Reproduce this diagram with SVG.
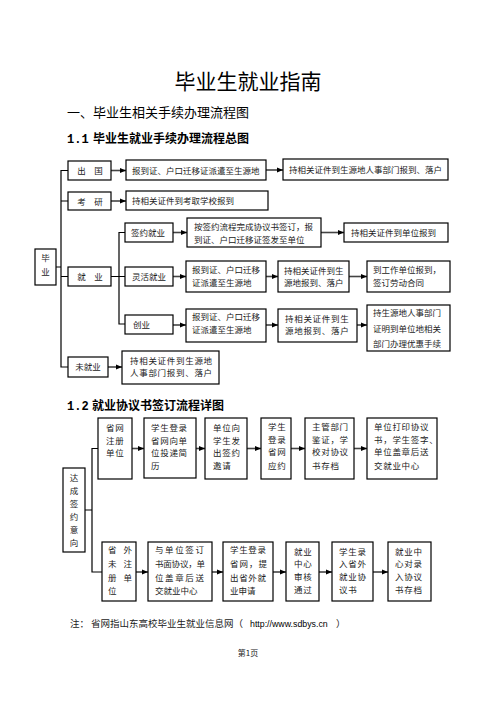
<svg xmlns="http://www.w3.org/2000/svg" width="496" height="702" viewBox="0 0 496 702">
<defs>
<marker id="ah" viewBox="0 0 10 10" refX="10" refY="5" markerUnits="userSpaceOnUse" markerWidth="6" markerHeight="6" orient="auto">
<path d="M0,1 L10,5 L0,9 z" fill="#000"/>
</marker>
</defs>
<style>
.bx{fill:#fff;stroke:#000;stroke-width:1.2}
.t{font-family:"Liberation Serif","Noto Sans CJK SC",serif;font-size:8.5px;fill:#222}
.t2{font-family:"Liberation Serif","Noto Sans CJK SC",serif;font-size:8.5px;fill:#222;letter-spacing:0.7px}
.c{text-anchor:middle}
.ln{fill:none;stroke:#000;stroke-width:1.2}
.ar{fill:none;stroke:#444;stroke-width:1.6;marker-end:url(#ah)}
.h{font-family:"Noto Sans CJK SC","Liberation Sans",sans-serif;fill:#000}
</style>
<rect width="496" height="702" fill="#fff"/>

<text class="h" x="248" y="89" font-size="21" text-anchor="middle">毕业生就业指南</text>
<text class="h" x="67" y="117" font-size="13">一、毕业生相关手续办理流程图</text>
<text class="h" x="67" y="142.5" font-size="12" font-weight="bold"><tspan font-family="Liberation Mono" font-weight="bold">1.1</tspan><tspan x="93">毕业生就业手续办理流程总图</tspan></text>

<g id="connectors1">
<path class="ln" d="M68,170.5 H61 V367 H68 M61,201 H68 M61,276.5 H68 M56,267 H61"/>
<path class="ln" d="M111,276.5 H119 M125,232.5 H119 V324 H125 M119,276.5 H125"/>
<path class="ar" d="M111,170.5 H126"/>
<path class="ar" d="M266,170 H283"/>
<path class="ar" d="M111,201 H126"/>
<path class="ar" d="M173,232.5 H187"/>
<path class="ar" d="M321,232.5 H344"/>
<path class="ar" d="M173,276.5 H186"/>
<path class="ar" d="M266,276.5 H278"/>
<path class="ar" d="M349,276.5 H367"/>
<path class="ar" d="M173,325 H186"/>
<path class="ar" d="M266,325 H278"/>
<path class="ar" d="M357,325 H367"/>
<path class="ar" d="M108,367 H122"/>
</g>

<g id="n-chuguo"><rect class="bx" x="68" y="161" width="43" height="19"/><text class="t c" x="90" y="174">出　国</text></g>
<g id="n-chuguo-1"><rect class="bx" x="126" y="160" width="140" height="20"/><text class="t" x="132" y="173.5">报到证、户口迁移证派遣至生源地</text></g>
<g id="n-chuguo-2"><rect class="bx" x="283" y="159" width="165" height="21"/><text class="t" x="289" y="173">持相关证件到生源地人事部门报到、落户</text></g>
<g id="n-kaoyan"><rect class="bx" x="68" y="192" width="43" height="18"/><text class="t c" x="90" y="204.5">考　研</text></g>
<g id="n-kaoyan-1"><rect class="bx" x="126" y="191" width="142" height="19"/><text class="t" x="132" y="204">持相关证件到考取学校报到</text></g>
<g id="n-qianyue"><rect class="bx" x="125" y="223" width="48" height="19"/><text class="t" x="131" y="235.5">签约就业</text></g>
<g id="n-qianyue-1"><rect class="bx" x="187" y="218" width="134" height="29"/><text class="t" x="194" y="230">按签约流程完成协议书签订，报</text><text class="t" x="194" y="243">到证、户口迁移证签发至单位</text></g>
<g id="n-qianyue-2"><rect class="bx" x="344" y="223" width="104" height="19"/><text class="t" x="351" y="235.5">持相关证件到单位报到</text></g>
<g id="n-biye"><rect class="bx" x="35" y="249" width="21" height="36"/><text class="t c" x="45.5" y="261">毕</text><text class="t c" x="45.5" y="275">业</text></g>
<g id="n-jiuye"><rect class="bx" x="68" y="267" width="43" height="19"/><text class="t c" x="90" y="280">就　业</text></g>
<g id="n-linghuo"><rect class="bx" x="125" y="267" width="48" height="19"/><text class="t" x="132" y="280">灵活就业</text></g>
<g id="n-linghuo-1"><rect class="bx" x="186" y="261" width="80" height="31"/><text class="t" x="192" y="273">报到证、户口迁移</text><text class="t" x="192" y="286">证派遣至生源地</text></g>
<g id="n-linghuo-2"><rect class="bx" x="278" y="261" width="71" height="31"/><text class="t" x="284" y="274">持相关证件到生</text><text class="t" x="284" y="286">源地报到、落户</text></g>
<g id="n-linghuo-3"><rect class="bx" x="367" y="261" width="83" height="31"/><text class="t" x="373" y="273">到工作单位报到，</text><text class="t" x="373" y="286">签订劳动合同</text></g>
<g id="n-chuangye"><rect class="bx" x="125" y="315" width="48" height="19"/><text class="t" x="133" y="327.5">创业</text></g>
<g id="n-chuangye-1"><rect class="bx" x="186" y="309" width="80" height="33"/><text class="t" x="192" y="320">报到证、户口迁移</text><text class="t" x="192" y="333">证派遣至生源地</text></g>
<g id="n-chuangye-2"><rect class="bx" x="278" y="309" width="79" height="33"/><text class="t2" x="285" y="322">持相关证件到生</text><text class="t2" x="285" y="334">源地报到、落户</text></g>
<g id="n-chuangye-3"><rect class="bx" x="367" y="305" width="83" height="46"/><text class="t" x="373" y="316">持生源地人事部门</text><text class="t" x="373" y="332">证明到单位地相关</text><text class="t" x="373" y="347">部门办理优惠手续</text></g>
<g id="n-weijiuye"><rect class="bx" x="68" y="357" width="40" height="20"/><text class="t c" x="88" y="370">未就业</text></g>
<g id="n-weijiuye-1"><rect class="bx" x="122" y="351" width="97" height="33"/><text class="t2" x="130" y="364">持相关证件到生源地</text><text class="t2" x="130" y="376">人事部门报到、落户</text></g>

<text class="h" x="67" y="409.5" font-size="12" font-weight="bold"><tspan font-family="Liberation Mono" font-weight="bold">1.2</tspan><tspan x="92">就业协议书签订流程详图</tspan></text>

<g id="connectors2">
<path class="ln" d="M85,510 H92 M98,448.5 H92 V572 H102"/>
<path class="ar" d="M132,448.5 H144"/>
<path class="ar" d="M196,448.5 H205"/>
<path class="ar" d="M247,448.5 H261"/>
<path class="ar" d="M291,448.5 H305"/>
<path class="ar" d="M354,448.5 H367"/>
<path class="ar" d="M136,572 H148"/>
<path class="ar" d="M212,572 H223"/>
<path class="ar" d="M273,572 H286"/>
<path class="ar" d="M319,572 H332"/>
<path class="ar" d="M373,572 H388"/>
</g>

<g id="n-dacheng"><rect class="bx" x="63" y="468" width="22" height="84"/>
<text class="t c" x="74" y="481">达</text><text class="t c" x="74" y="494">成</text><text class="t c" x="74" y="507">签</text><text class="t c" x="74" y="520">约</text><text class="t c" x="74" y="533">意</text><text class="t c" x="74" y="546">向</text></g>

<g id="n-s1"><rect class="bx" x="98" y="418" width="34" height="61"/><text class="t2" x="106" y="431">省网</text><text class="t2" x="106" y="444">注册</text><text class="t2" x="106" y="456">单位</text></g>
<g id="n-s2"><rect class="bx" x="144" y="418" width="52" height="60"/><text class="t2" x="151" y="431">学生登录</text><text class="t2" x="151" y="444">省网向单</text><text class="t2" x="151" y="456">位投递简</text><text class="t2" x="151" y="469">历</text></g>
<g id="n-s3"><rect class="bx" x="205" y="418" width="42" height="61"/><text class="t2" x="213" y="431">单位向</text><text class="t2" x="213" y="444">学生发</text><text class="t2" x="213" y="456">出签约</text><text class="t2" x="213" y="469">邀请</text></g>
<g id="n-s4"><rect class="bx" x="261" y="418" width="30" height="61"/><text class="t2" x="268" y="430">学生</text><text class="t2" x="268" y="443">登录</text><text class="t2" x="268" y="455">省网</text><text class="t2" x="268" y="469">应约</text></g>
<g id="n-s5"><rect class="bx" x="305" y="418" width="49" height="61"/><text class="t2" x="312" y="430">主管部门</text><text class="t2" x="312" y="443">鉴证，学</text><text class="t2" x="312" y="455">校对协议</text><text class="t2" x="312" y="469">书存档</text></g>
<g id="n-s6"><rect class="bx" x="367" y="418" width="70" height="61"/><text class="t2" x="374" y="430">单位打印协议</text><text class="t2" x="374" y="443">书，学生签字、</text><text class="t2" x="374" y="455">单位盖章后送</text><text class="t2" x="374" y="469">交就业中心</text></g>

<g id="n-w1"><rect class="bx" x="102" y="542" width="34" height="59"/><text class="t" x="108" y="553" letter-spacing="7">省外</text><text class="t" x="108" y="567" letter-spacing="7">未注</text><text class="t" x="108" y="581" letter-spacing="7">册单</text><text class="t" x="108" y="594">位</text></g>
<g id="n-w2"><rect class="bx" x="148" y="542" width="64" height="59"/><text class="t" x="155" y="553" textLength="49" lengthAdjust="spacing">与单位签订</text><text class="t" x="155" y="567" textLength="50" lengthAdjust="spacing">书面协议，单</text><text class="t" x="155" y="581" textLength="49" lengthAdjust="spacing">位盖章后送</text><text class="t" x="155" y="594">交就业中心</text></g>
<g id="n-w3"><rect class="bx" x="223" y="542" width="50" height="59"/><text class="t" x="230" y="553" textLength="36" lengthAdjust="spacing">学生登录</text><text class="t" x="230" y="567" textLength="37" lengthAdjust="spacing">省网，提</text><text class="t" x="230" y="581" textLength="36" lengthAdjust="spacing">出省外就</text><text class="t" x="230" y="594">业申请</text></g>
<g id="n-w4"><rect class="bx" x="286" y="542" width="33" height="59"/><text class="t2" x="294" y="555">就业</text><text class="t2" x="294" y="567">中心</text><text class="t2" x="294" y="580">审核</text><text class="t2" x="294" y="593">通过</text></g>
<g id="n-w5"><rect class="bx" x="332" y="542" width="41" height="59"/><text class="t2" x="339" y="555">学生录</text><text class="t2" x="339" y="567">入省外</text><text class="t2" x="339" y="580">就业协</text><text class="t2" x="339" y="593">议书</text></g>
<g id="n-w6"><rect class="bx" x="388" y="542" width="43" height="59"/><text class="t2" x="395" y="555">就业中</text><text class="t2" x="395" y="567">心对录</text><text class="t2" x="395" y="580">入协议</text><text class="t2" x="395" y="593">书存档</text></g>

<text x="70" y="627" font-family="Liberation Serif,Noto Sans CJK SC,serif" font-size="9.5" fill="#222">注：<tspan x="91">省网指山东高校毕业生就业信息网（</tspan><tspan x="250" font-family="Liberation Sans,sans-serif" font-size="8.8" fill="#000">http://www.sdbys.cn</tspan><tspan x="336">）</tspan></text>
<text x="248" y="656" text-anchor="middle" font-family="Noto Sans CJK SC,sans-serif" font-size="8" fill="#222">第1页</text>
</svg>
